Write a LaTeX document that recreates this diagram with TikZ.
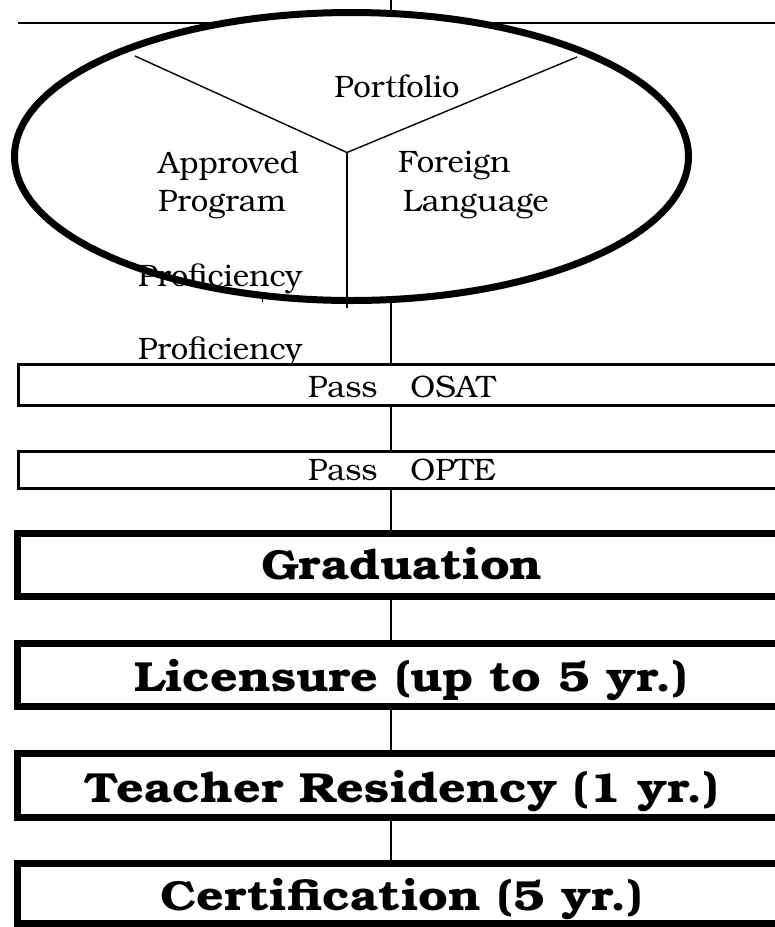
\documentclass[tikz,border=0pt]{standalone}
\usepackage{fontspec}
\setmainfont{TeX Gyre Bonum}
\usetikzlibrary{shapes.geometric,backgrounds}
\begin{document}
\begin{tikzpicture}[x=1pt,y=-1pt,
  conn/.style={line width=1.5pt},
  ythin/.style={line width=1.4pt},
  thinbox/.style={draw,line width=3pt,fill=white,rectangle,inner sep=0pt},
  bigbox/.style={draw,line width=7pt,fill=white,rectangle,inner sep=0pt},
  reg/.style={inner sep=0pt,font=\fontsize{31}{37}\selectfont},
  big/.style={inner sep=0pt,anchor=base,font=\fontsize{42}{50}\selectfont\bfseries,xscale=1.15}]
\clip (0,0) rectangle (775,927);
\coordinate (spine) at (391,0);
\coordinate (hl) at (18,23);
\coordinate (hr) at (775,23);
% ellipse (fill only; stroke drawn after texts)
\node[ellipse,fill=white,minimum width=674pt,minimum height=288pt,inner sep=0pt] (ell) at (351.5,156.5) {};
% boxes
\node[thinbox,minimum width=790pt,minimum height=41pt] (osat) at (413.5,385) {};
\node[thinbox,minimum width=790pt,minimum height=37pt] (opte) at (413.5,470) {};
\node[bigbox,minimum width=790pt,minimum height=63.5pt] (grad) at (412.5,564.75) {};
\node[bigbox,minimum width=790pt,minimum height=63.5pt] (lic) at (412.5,674.75) {};
\node[bigbox,minimum width=790pt,minimum height=64pt] (res) at (412.5,785) {};
\node[bigbox,minimum width=790pt,minimum height=60.5pt] (cert) at (412.5,893.25) {};
\begin{scope}[on background layer]
  \draw[line width=2pt] (hl) -- (hr);
  \draw[conn] (spine) -- (ell.south -| spine);
  \draw[conn] (ell.south -| spine) -- (osat.north -| spine);
\end{scope}
% connectors between boxes
\draw[conn] (osat.south -| spine) -- (opte.north -| spine);
\draw[conn] (opte.south -| spine) -- (grad.north -| spine);
\draw[conn] (grad.south -| spine) -- (lic.north -| spine);
\draw[conn] (lic.south -| spine) -- (res.north -| spine);
\draw[conn] (res.south -| spine) -- (cert.north -| spine);
% Y inside the ellipse
\coordinate (yc) at (347,152.5);
\coordinate (ya) at (135,56);
\coordinate (yb) at (577,57);
\coordinate (yd) at (347,308);
\draw[ythin] (ya) -- (yc) -- (yb);
\draw[ythin] (yc) -- (yd);
% texts in the ellipse
\node[reg,anchor=base] (port) at (397,97) {Portfolio};
\node[reg,anchor=base west] (appr) at (158,173) {Approved};
\node[reg,anchor=base west] (prog) at (158,211) {Program};
\node[reg,anchor=base west] (forg) at (398,172) {Foreign};
\node[reg,anchor=base west] (lang) at (403,211) {Language};
\node[reg,anchor=base west] (prof1) at (138,286) {Proficiency};
% ellipse stroke
\draw[line width=7pt] (ell.center) ellipse [x radius=337pt, y radius=144pt];
\coordinate (t1) at (262,295);
\coordinate (t2) at (262,302);
\draw[line width=1pt] (t1) -- (t2);
\node[reg,anchor=base west] (prof2) at (138,359) {Proficiency};
% redraw osat box over the second Proficiency descender
\node[thinbox,minimum width=790pt,minimum height=41pt] (osat2) at (413.5,385) {};
\node[reg,anchor=base west] (osatt) at (308,397) {Pass\hspace{33pt}OSAT};
\node[reg,anchor=base west] (optet) at (308,480) {Pass\hspace{33pt}OPTE};
\node[big] (gradt) at (402,579) {Graduation};
\node[big] (lict) at (411,691) {Licensure (up to 5 yr.)};
\node[big] (rest) at (401.5,802) {Teacher Residency (1 yr.)};
\node[big] (certt) at (401.5,910) {Certification (5 yr.)};
\end{tikzpicture}
\end{document}
